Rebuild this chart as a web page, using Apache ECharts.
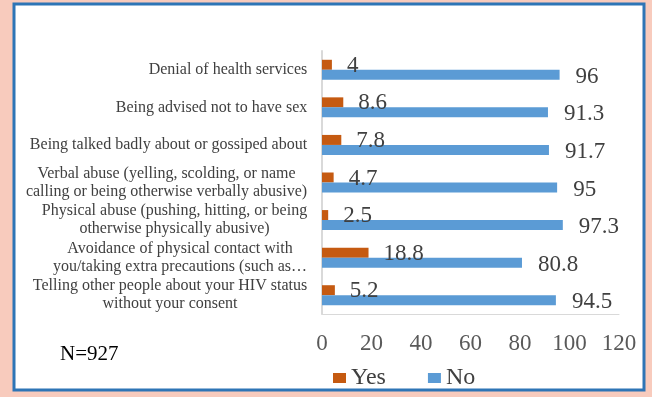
<!DOCTYPE html>
<html><head><meta charset="utf-8">
<script src="https://cdn.jsdelivr.net/npm/echarts@6/dist/echarts.min.js"></script>
<style>html,body{margin:0;padding:0;background:#f8cbbd;}#c{width:652px;height:397px;}</style>
</head><body><div id="c"></div>
<script>
const categories = [
  "Denial of health services",
  "Being advised not to have sex",
  "Being talked badly about or gossiped about",
  "Verbal abuse (yelling, scolding, or name\ncalling or being otherwise verbally abusive)",
  "Physical abuse (pushing, hitting, or being\notherwise physically abusive)",
  "Avoidance of physical contact with\nyou/taking extra precautions (such as\u2026",
  "Telling other people about your HIV status\nwithout your consent"
];
const yesValues = [4, 8.6, 7.8, 4.7, 2.5, 18.8, 5.2];
const noValues = [96, 91.3, 91.7, 95, 97.3, 80.8, 94.5];
const xTicks = { min: 0, max: 120, interval: 20 };
const seriesNames = ["Yes", "No"];
const noteText = "N=927";

const FONT = '"Liberation Serif", "Times New Roman", serif';
const cv = document.createElement('canvas').getContext('2d');
cv.font = '16px "Liberation Serif"';
const rich = {};
categories.forEach((c, i) => {
  const w = Math.max(...c.split('\n').map(l => cv.measureText(l).width));
  rich['c' + i] = { width: Math.ceil(w) + 1, align: 'center', fontSize: 16, lineHeight: 18, fontFamily: FONT, color: '#404040' };
});

const chart = echarts.init(document.getElementById('c'));
chart.setOption({
  backgroundColor: '#f8cbbd',
  animation: false,
  graphic: [
    { type: 'rect', shape: { x: 14, y: 4, width: 630, height: 386 }, style: { fill: '#ffffff', stroke: '#2e75b6', lineWidth: 3 }, z: -10 },
    { type: 'text', left: 60, top: 344, style: { text: noteText, font: '21px ' + FONT, fill: '#000000' } }
  ],
  grid: { left: 322, right: 33, top: 51, bottom: 83 },
  legend: {
    data: seriesNames, left: 328, top: 361, itemWidth: 13, itemHeight: 10, itemGap: 42,
    icon: 'rect',
    textStyle: { fontSize: 24, fontFamily: FONT, color: '#404040' }
  },
  xAxis: {
    type: 'value', min: xTicks.min, max: xTicks.max, interval: xTicks.interval,
    axisLine: { show: true, lineStyle: { color: '#d9d9d9', width: 1 } },
    axisTick: { show: false }, splitLine: { show: false },
    axisLabel: { fontSize: 23, fontFamily: FONT, color: '#595959', margin: 18 }
  },
  yAxis: {
    type: 'category', data: categories, inverse: true,
    axisLine: { show: true, lineStyle: { color: '#d9d9d9', width: 2 } },
    axisTick: { show: false },
    axisLabel: {
      margin: 14, interval: 0,
      formatter: (v, i) => '{c' + i + '|' + v + '}',
      rich: rich
    }
  },
  series: [
    { name: 'Yes', type: 'bar', data: yesValues, barWidth: 10, barGap: '0%',
      itemStyle: { color: '#c55a11' },
      label: { show: true, position: 'right', distance: 15, offset: [0, 1], fontSize: 23, fontFamily: FONT, color: '#404040' } },
    { name: 'No', type: 'bar', data: noValues, barWidth: 10, barGap: '0%',
      itemStyle: { color: '#5b9bd5' },
      label: { show: true, position: 'right', distance: 16, offset: [0, 2], fontSize: 23, fontFamily: FONT, color: '#404040' } }
  ]
});
</script></body></html>
